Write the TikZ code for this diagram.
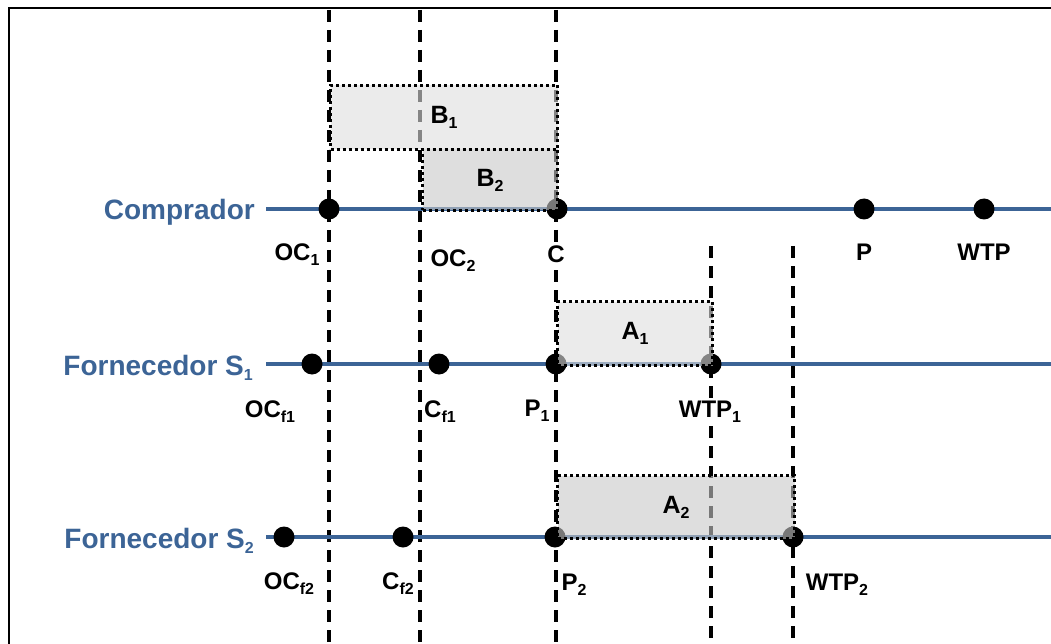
\documentclass[tikz,border=0pt]{standalone}
\usepackage{fontspec}
\setmainfont{Liberation Sans}
\definecolor{axisblue}{RGB}{60,100,150}
\newcommand{\lsub}[1]{\raisebox{-5pt}{\fontsize{16}{16}\selectfont #1}}
\begin{document}
\begin{tikzpicture}[x=1pt,y=-1pt,
  frame/.style={draw=black, line width=2pt},
  guide/.style={draw=black, line width=3.2pt, dash pattern=on 12pt off 8pt},
  axis/.style={draw=axisblue, line width=4pt},
  dot/.style={circle, fill=black, inner sep=0pt, minimum size=21pt},
  area/.style={draw=black, line width=3pt, dash pattern=on 3pt off 3pt, fill opacity=0.6, text opacity=1, inner sep=0pt, anchor=north west, font=\fontsize{25}{25}\selectfont\bfseries},
  light/.style={area, fill={rgb,255:red,222;green,222;blue,222}},
  darker/.style={area, fill={rgb,255:red,200;green,200;blue,200}},
  lbl/.style={font=\fontsize{24}{24}\selectfont\bfseries, text=black, fill=white, inner sep=0.5pt, anchor=base},
  row/.style={font=\fontsize{28}{28}\selectfont\bfseries, text=axisblue, inner sep=0pt, anchor=base east}]
\useasboundingbox (0,0) rectangle (1051,644);
\clip (0,0) rectangle (1051,644);
\draw[frame] (9,8) rectangle (1080,680);

% guide line end points
\coordinate (g1t) at (329,10);  \coordinate (g1b) at (329,650);
\coordinate (g2t) at (420,10);  \coordinate (g2b) at (420,650);
\coordinate (g3t) at (556,10);  \coordinate (g3b) at (556,650);
\coordinate (g4t) at (711,246); \coordinate (g4b) at (711,650);
\coordinate (g5t) at (793,246); \coordinate (g5b) at (793,650);
\draw[guide] (g1t) -- (g1b);
\draw[guide] (g2t) -- (g2b);
\draw[guide] (g3t) -- (g3b);
\draw[guide] (g4t) -- (g4b);
\draw[guide] (g5t) -- (g5b);

% axes
\coordinate (c0) at (266,209); \coordinate (c9) at (1060,209);
\coordinate (s10) at (266,364); \coordinate (s19) at (1060,364);
\coordinate (s20) at (266,537); \coordinate (s29) at (1060,537);
\draw[axis] (c0) -- (c9);
\draw[axis] (s10) -- (s19);
\draw[axis] (s20) -- (s29);

% dots
\node[dot] (oc1) at (329,209) {};
\node[dot] (c) at (557,209) {};
\node[dot] (p) at (864,209) {};
\node[dot] (wtp) at (984,209) {};
\node[dot] (ocf1) at (312,364) {};
\node[dot] (cf1) at (439,364) {};
\node[dot] (p1) at (556,364) {};
\node[dot] (wtp1) at (711,364) {};
\node[dot] (ocf2) at (284,537) {};
\node[dot] (cf2) at (403,537) {};
\node[dot] (p2) at (555,537) {};
\node[dot] (wtp2) at (793,537) {};

% areas
\node[light, minimum width=227pt, minimum height=64pt] (B1) at (329,84) {B\lsub{1}};
\node[darker, minimum width=135pt, minimum height=61pt] (B2) at (421,148) {B\lsub{2}};
\node[light, minimum width=155pt, minimum height=64pt] (A1) at (556,300) {A\lsub{1}};
\node[darker, minimum width=237pt, minimum height=63pt] (A2) at (556,474) {A\lsub{2}};

% row labels
\node[row] (comp) at (255,220) {Comprador};
\node[row] (forn1) at (253,375) {Fornecedor S\lsub{1}};
\node[row] (forn2) at (254,548) {Fornecedor S\lsub{2}};

% point labels
\node[lbl] (loc1) at (297,261) {OC\lsub{1}};
\node[lbl] (loc2) at (453,266) {OC\lsub{2}};
\node[lbl] (lc) at (556,262) {C};
\node[lbl] (lp) at (864,260) {P};
\node[lbl] (lwtp) at (984,260) {WTP};
\node[lbl] (locf1) at (270,417) {OC\lsub{f1}};
\node[lbl] (lcf1) at (440,417) {C\lsub{f1}};
\node[lbl] (lp1) at (537,416) {P\lsub{1}};
\node[lbl] (lwtp1) at (710,417) {WTP\lsub{1}};
\node[lbl] (locf2) at (289,589) {OC\lsub{f2}};
\node[lbl] (lcf2) at (398,589) {C\lsub{f2}};
\node[lbl] (lp2) at (574,590) {P\lsub{2}};
\node[lbl] (lwtp2) at (837,590) {WTP\lsub{2}};
\end{tikzpicture}
\end{document}
